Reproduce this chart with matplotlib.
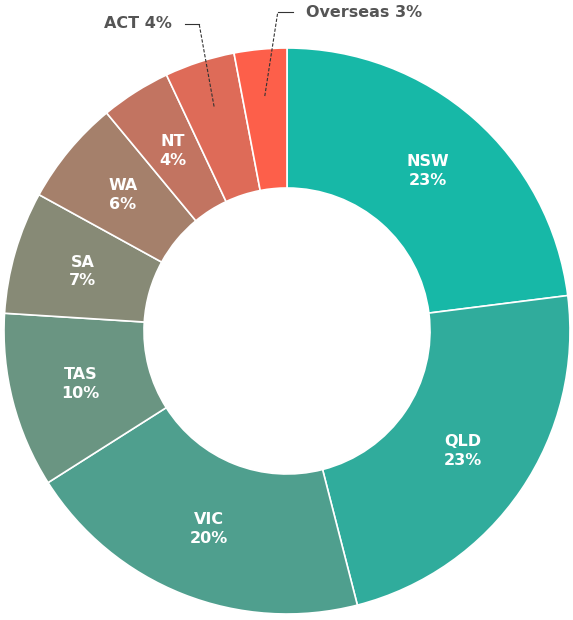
import numpy as np
import matplotlib
matplotlib.use("Agg")
import matplotlib.pyplot as plt

regions = ["NSW", "QLD", "VIC", "TAS", "SA", "WA", "NT", "ACT", "Overseas"]
shares  = [23, 23, 20, 10, 7, 6, 4, 4, 3]
colors  = ["#17b8a7", "#30ac9c", "#4f9f8e", "#6a9582", "#878a76",
           "#a5806b", "#c27461", "#de6b58", "#fd5f4a"]
outside = ["ACT", "Overseas"]

W, H = 573, 620
cx, cy = 287, H - 331
R, r_in = 283, 143

plt.rcParams["font.family"] = ["DejaVu Sans"]
fig = plt.figure(figsize=(W / 100, H / 100), dpi=100)
ax = fig.add_axes([0, 0, 1, 1])

wedges, _ = ax.pie(shares, colors=colors, startangle=90, counterclock=False,
                   center=(cx, cy), radius=R, frame=True,
                   wedgeprops=dict(width=R - r_in, edgecolor="white", linewidth=1.2))
ax.set_xlim(0, W); ax.set_ylim(0, H)
ax.set_aspect("equal"); ax.axis("off")

def polar(theta_deg, rad):
    t = np.deg2rad(theta_deg)
    return cx + rad * np.cos(t), cy + rad * np.sin(t)

r_mid = (R + r_in) / 2
for w, name, val in zip(wedges, regions, shares):
    if name in outside:
        continue
    mid = (w.theta1 + w.theta2) / 2
    x, y = polar(mid, r_mid)
    ax.text(x, y, f"{name}\n{val}%", color="white", fontsize=11.5, fontweight="bold",
            ha="center", va="center", linespacing=1.3)

# leader-line labels for the two small slices at the top
elbows = {"ACT": (-15, 83, -14, -13), "Overseas": (13, 84, 15, 13)}
for w, name, val in zip(wedges, regions, shares):
    if name not in outside:
        continue
    mid = (w.theta1 + w.theta2) / 2
    x0, y0 = polar(mid, 236)
    dx, dy, hx, tx = elbows[name]
    x1, y1 = x0 + dx, y0 + dy
    x2 = x1 + hx
    ax.plot([x0, x1], [y0, y1], color="#333333", lw=0.8, linestyle=(0, (3, 1.5)))
    ax.plot([x1, x2], [y1, y1], color="#333333", lw=0.8)
    ax.text(x2 + tx, y1, f"{name} {val}%", color="#555555", fontsize=11.5,
            fontweight="bold", ha="right" if tx < 0 else "left", va="center")

fig.savefig("out.png", dpi=100, facecolor="white")
